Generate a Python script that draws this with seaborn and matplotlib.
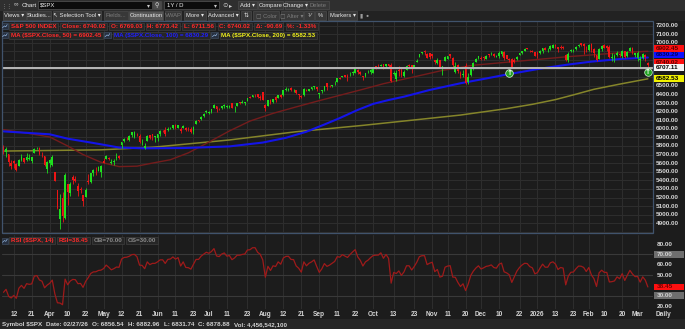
import numpy as np
import pandas as pd
import matplotlib
matplotlib.use("Agg")
import matplotlib.pyplot as plt
from matplotlib.patches import Rectangle
from matplotlib.lines import Line2D
import seaborn as sns

# ---------------------------------------------------------------- data
holidays = ["2025-04-18", "2025-05-26", "2025-06-19", "2025-07-04", "2025-09-01",
            "2025-11-27", "2025-12-25", "2026-01-01", "2026-01-19", "2026-02-16"]
dates = pd.bdate_range("2025-03-06", "2026-03-06")
dates = dates[~dates.isin(pd.to_datetime(holidays))]

opens = [
    5785, 5726, 5705, 5603, 5624, 5594, 5563, 5635, 5655, 5632, 5646, 5630, 5719, 5775, 5771, 5696, 5679, 5528,
    5597, 5580, 5492, 5292, 4953, 5193, 4966, 5353, 5255, 5442, 5412, 5335, 5305, 5232, 5207, 5395, 5381, 5490, 5530, 5508, 5500,
    5626, 5646, 5655, 5606, 5614, 5661, 5680, 5808, 5854, 5895, 5866, 5930, 5903, 5944, 5921, 5842, 5781, 5855, 5926, 5939, 5903,
    5897, 5939, 5979, 5985, 5987, 6005, 6010, 6049, 6010, 5997, 6004, 6012, 5987, 5999, 5970, 6061, 6104, 6112, 6151, 6193,
    6187, 6191, 6244, 6260, 6236, 6240, 6267, 6256, 6255, 6295, 6262, 6265, 6307, 6304, 6306, 6327, 6368, 6371, 6397, 6405, 6375, 6428,
    6272, 6261, 6336, 6309, 6376, 6353, 6390, 6397, 6457, 6453, 6478, 6446, 6446, 6408, 6384, 6394, 6457, 6440, 6458, 6483, 6490,
    6401, 6444, 6454, 6530, 6498, 6498, 6531, 6545, 6590, 6603, 6626, 6613, 6627, 6644, 6653, 6690, 6666, 6606, 6615, 6661, 6661,
    6655, 6731, 6723, 6735, 6751, 6733, 6756, 6744, 6641, 6575, 6684, 6687, 6612, 6687, 6737, 6743, 6719, 6777, 6840, 6885, 6907, 6876, 6880,
    6873, 6796, 6764, 6797, 6701, 6788, 6815, 6867, 6830, 6667, 6737, 6648, 6623, 6730, 6545, 6623, 6706, 6778, 6822,
    6830, 6830, 6815, 6867, 6866, 6872, 6840, 6843, 6866, 6889, 6857, 6812, 6815, 6800, 6810, 6865, 6883, 6906, 6935, 6907, 6908, 6895,
    6878, 6880, 6903, 6945, 6915, 6925, 6945, 6975, 6950, 6955, 6955, 6860, 6800, 6910, 6905, 6925, 6960, 6995, 6985, 6945,
    6920, 6985, 6925, 6860, 6815, 6925, 6970, 6960, 6950, 6830, 6820, 6855, 6865, 6850, 6900, 6845, 6905, 6945, 6857,
    6830, 6800, 6830, 6865, 6769,
]
highs = [
    5812, 5783, 5705, 5636, 5642, 5597, 5646, 5704, 5655, 5716, 5711, 5670, 5775, 5787, 5784, 5733, 5685, 5627,
    5650, 5695, 5500, 5292, 5246, 5267, 5481, 5353, 5381, 5460, 5450, 5367, 5328, 5232, 5309, 5470, 5489, 5528, 5554, 5572, 5581,
    5659, 5700, 5677, 5643, 5653, 5720, 5691, 5845, 5893, 5906, 5925, 5959, 5969, 5954, 5938, 5879, 5829, 5925, 5929, 5943, 5922,
    5938, 5982, 5990, 6016, 6016, 6021, 6043, 6060, 6046, 6026, 6050, 6024, 6018, 6019, 6028, 6101, 6108, 6147, 6187, 6215,
    6211, 6228, 6285, 6263, 6243, 6270, 6290, 6273, 6272, 6303, 6270, 6304, 6315, 6336, 6316, 6360, 6381, 6389, 6401, 6409, 6390, 6428,
    6288, 6330, 6346, 6349, 6379, 6395, 6410, 6446, 6481, 6474, 6482, 6459, 6456, 6408, 6394, 6478, 6466, 6468, 6486, 6502, 6490,
    6416, 6455, 6502, 6533, 6512, 6513, 6556, 6592, 6601, 6619, 6627, 6639, 6656, 6672, 6694, 6693, 6670, 6620, 6651, 6680, 6693,
    6718, 6731, 6750, 6749, 6752, 6755, 6757, 6764, 6671, 6680, 6731, 6707, 6682, 6744, 6752, 6745, 6748, 6808, 6876, 6899, 6920, 6881, 6882,
    6875, 6803, 6828, 6799, 6734, 6842, 6847, 6869, 6835, 6775, 6753, 6677, 6683, 6770, 6655, 6715, 6776, 6828, 6850,
    6843, 6851, 6857, 6868, 6896, 6878, 6864, 6900, 6903, 6900, 6858, 6830, 6822, 6819, 6842, 6884, 6911, 6937, 6945, 6920, 6919, 6897,
    6910, 6920, 6945, 6955, 6935, 6978, 6985, 6985, 6955, 6970, 6965, 6870, 6895, 6930, 6925, 6960, 6990, 7002, 6995, 6965,
    6985, 7000, 6940, 6865, 6940, 6970, 6985, 6975, 6970, 6880, 6870, 6905, 6880, 6920, 6905, 6900, 6950, 6950, 6883,
    6900, 6845, 6880, 6875, 6773,
]
lows = [
    5711, 5667, 5565, 5529, 5546, 5505, 5563, 5628, 5598, 5622, 5641, 5603, 5719, 5765, 5696, 5672, 5572, 5488,
    5560, 5571, 5390, 5069, 4835, 4910, 4948, 5116, 5221, 5358, 5386, 5220, 5255, 5102, 5207, 5356, 5372, 5455, 5468, 5506, 5434,
    5597, 5645, 5635, 5590, 5578, 5640, 5644, 5776, 5846, 5869, 5856, 5908, 5895, 5922, 5830, 5810, 5768, 5855, 5886, 5875, 5843,
    5862, 5918, 5967, 5921, 5979, 5994, 6000, 6003, 6005, 5953, 6004, 5974, 5971, 5953, 5943, 6061, 6081, 6106, 6133, 6181,
    6173, 6188, 6244, 6201, 6218, 6236, 6248, 6241, 6239, 6242, 6201, 6263, 6286, 6303, 6282, 6318, 6361, 6369, 6375, 6364, 6330, 6336,
    6212, 6261, 6288, 6302, 6316, 6353, 6364, 6382, 6445, 6441, 6441, 6431, 6401, 6343, 6361, 6386, 6438, 6435, 6456, 6465, 6444,
    6361, 6421, 6444, 6454, 6488, 6485, 6514, 6540, 6579, 6600, 6598, 6553, 6614, 6632, 6651, 6642, 6625, 6570, 6606, 6648, 6640,
    6651, 6693, 6706, 6726, 6700, 6719, 6717, 6550, 6627, 6551, 6617, 6604, 6600, 6685, 6717, 6654, 6709, 6774, 6840, 6870, 6860, 6820, 6810,
    6821, 6754, 6750, 6708, 6631, 6788, 6813, 6827, 6723, 6646, 6653, 6589, 6608, 6526, 6521, 6619, 6680, 6776, 6818,
    6800, 6806, 6808, 6836, 6858, 6834, 6832, 6830, 6844, 6801, 6812, 6776, 6721, 6761, 6800, 6858, 6868, 6905, 6924, 6891, 6891, 6844,
    6824, 6870, 6885, 6915, 6895, 6920, 6935, 6940, 6895, 6930, 6925, 6790, 6775, 6895, 6890, 6920, 6955, 6965, 6870, 6895,
    6900, 6890, 6840, 6785, 6810, 6905, 6935, 6905, 6820, 6795, 6775, 6850, 6835, 6830, 6825, 6835, 6900, 6870, 6832,
    6795, 6710, 6815, 6785, 6712,
]
closes = [
    5739, 5770, 5615, 5572, 5599, 5522, 5639, 5675, 5615, 5675, 5663, 5668, 5768, 5777, 5712, 5693, 5581, 5612,
    5633, 5671, 5397, 5074, 5062, 4983, 5457, 5268, 5363, 5406, 5397, 5276, 5283, 5158, 5288, 5376, 5485, 5525, 5529, 5561, 5569,
    5604, 5687, 5650, 5607, 5631, 5664, 5660, 5844, 5887, 5893, 5917, 5958, 5964, 5940, 5845, 5842, 5803, 5922, 5889, 5912, 5912,
    5936, 5970, 5971, 5939, 6000, 6006, 6039, 6022, 6045, 5977, 6033, 5983, 5981, 5968, 6025, 6092, 6092, 6141, 6173, 6205,
    6198, 6227, 6279, 6230, 6226, 6263, 6280, 6260, 6269, 6244, 6264, 6297, 6297, 6306, 6310, 6359, 6363, 6389, 6390, 6371, 6363, 6339,
    6238, 6330, 6299, 6345, 6340, 6389, 6373, 6446, 6467, 6469, 6450, 6449, 6411, 6396, 6370, 6467, 6439, 6466, 6481, 6502, 6460,
    6416, 6448, 6502, 6482, 6495, 6513, 6532, 6587, 6584, 6615, 6607, 6600, 6632, 6664, 6694, 6657, 6638, 6605, 6644, 6661, 6688,
    6711, 6715, 6716, 6740, 6715, 6754, 6735, 6553, 6655, 6644, 6671, 6629, 6664, 6735, 6735, 6699, 6738, 6792, 6875, 6891, 6891, 6822, 6840,
    6852, 6772, 6796, 6720, 6729, 6832, 6847, 6851, 6737, 6734, 6672, 6617, 6642, 6539, 6603, 6705, 6766, 6813, 6849,
    6813, 6829, 6850, 6857, 6870, 6847, 6841, 6887, 6901, 6827, 6817, 6800, 6721, 6775, 6835, 6878, 6910, 6932, 6930, 6906, 6896, 6846,
    6858, 6902, 6944, 6921, 6921, 6966, 6977, 6963, 6926, 6944, 6940, 6797, 6875, 6913, 6916, 6950, 6979, 6978, 6969, 6939,
    6976, 6917, 6883, 6798, 6932, 6964, 6942, 6941, 6833, 6836, 6843, 6881, 6861, 6910, 6837, 6890, 6946, 6908, 6879,
    6881, 6817, 6869, 6831, 6740,
]
# closes before the visible window (RSI warm-up only)
pre_closes = [6049, 6086, 6119, 6101, 6012, 6068, 6039, 6071, 6041, 5994, 6038, 6061, 6084, 6026, 6066,
              6068, 6052, 6115, 6115, 6129, 6144, 6118, 6013, 5983, 5955, 5956, 5861, 5955, 5850, 5778, 5843]

ma50_idx = [0, 10, 18, 25, 31, 38, 45, 52, 57, 65, 72, 80, 88, 96, 105, 114, 122, 131, 140, 148,
            161, 171, 183, 196, 209, 220, 229, 240, 251]
ma50_val = [5990, 5945, 5905, 5800, 5700, 5610, 5560, 5565, 5595, 5640, 5720, 5845, 5975, 6090, 6180,
            6255, 6320, 6390, 6460, 6525, 6612, 6680, 6740, 6775, 6810, 6840, 6860, 6885, 6902]
ma100_idx = [0, 18, 25, 35, 45, 54, 70, 88, 101, 110, 118, 125, 131, 138, 144, 150, 156, 166, 178,
             187, 196, 209, 220, 229, 240, 251]
ma100_val = [5970, 5936, 5885, 5835, 5782, 5773, 5776, 5795, 5840, 5895, 5966, 6050, 6125, 6220, 6290,
             6335, 6374, 6452, 6530, 6580, 6632, 6700, 6748, 6782, 6812, 6830]
ma200_idx = [0, 38, 58, 88, 114, 140, 166, 178, 196, 206, 215, 222, 230, 240, 251]
ma200_val = [5741, 5755, 5785, 5870, 5966, 6040, 6122, 6160, 6235, 6285, 6340, 6395, 6460, 6520, 6582]

hline_price = 6707.11
marker_idx = [197, 251]
marker_price = [6646, 6665]

tick_dates = ["2025-03-12", "2025-03-21", "2025-04-01", "2025-04-10", "2025-04-22", "2025-05-01",
              "2025-05-12", "2025-05-21", "2025-06-02", "2025-06-11", "2025-06-23", "2025-07-01",
              "2025-07-11", "2025-07-23", "2025-08-01", "2025-08-12", "2025-08-21", "2025-09-02",
              "2025-09-11", "2025-09-22", "2025-10-01", "2025-10-13", "2025-10-23", "2025-11-03",
              "2025-11-11", "2025-11-20", "2025-12-01", "2025-12-10", "2025-12-22", "2026-01-02",
              "2026-01-13", "2026-01-23", "2026-02-02", "2026-02-10", "2026-02-20", "2026-03-02"]
tick_labels = ["12", "21", "Apr", "10", "22", "May", "12", "21", "Jun", "11", "23", "Jul", "11", "23",
               "Aug", "12", "21", "Sep", "11", "22", "Oct", "13", "23", "Nov", "11", "20", "Dec", "10",
               "22", "2026", "13", "23", "Feb", "10", "20", "Mar"]
price_ticks = list(range(4900, 7300, 100))
hidden_price_ticks = [6600, 6700, 6800, 6900]
rsi_ticks = [80, 60, 50, 20]

header_items = ["S&P 500 INDEX", "Close: 6740.02", "O: 6769.03", "H: 6773.42", "L: 6711.56",
                "C: 6740.02", "Δ: -90.69", "%: -1.33%"]
ma_labels = ["MA ($SPX.Close, 50) = 6902.45", "MA ($SPX.Close, 100) = 6830.29",
             "MA ($SPX.Close, 200) = 6582.53"]
rsi_items = ["RSI ($SPX, 14)", "RSI=38.45", "OB=70.00", "OS=30.00"]
last_values = {"ma50": 6902.45, "ma100": 6830.29, "last": 6740.02, "line": 6707.11, "ma200": 6582.53}
rsi_last = 38.45
status_items = ["Symbol $SPX", "Date: 02/27/26", "O: 6856.54", "H: 6882.96", "L: 6831.74",
                "C: 6878.88", "Vol: 4,456,542,100"]

# ---------------------------------------------------------------- style
BG = "#1c1c1c"
GRID = "#2e2e2e"
GREEN = "#1ee01e"
RED = "#f01515"
TXT = "#d4d4d4"

sns.set_theme(style="dark", rc={"axes.facecolor": BG, "figure.facecolor": BG})
plt.rcParams["font.family"] = ["Liberation Sans", "DejaVu Sans"]

W, H = 685, 329
fig = plt.figure(figsize=(W / 100, H / 100), dpi=100)
fig.patch.set_facecolor(BG)
renderer = fig.canvas.get_renderer()


def rect_ax(x0, y0, x1, y1):
    return [x0 / W, 1 - y1 / H, (x1 - x0) / W, (y1 - y0) / H]


def frect(x0, y0, x1, y1, fc, ec="none", lw=0.0, z=1):
    fig.add_artist(Rectangle((x0 / W, 1 - y1 / H), (x1 - x0) / W, (y1 - y0) / H,
                             transform=fig.transFigure, fc=fc, ec=ec, lw=lw, zorder=z))


def ftext(x, y, s, color, size=4.5, ha="left", weight="bold", z=10):
    return fig.text(x / W, 1 - y / H, s, color=color, fontsize=size, ha=ha, va="center",
                    weight=weight, zorder=z)


def boxed(x, y, s, color, fc="#262626", ec="#3e3e3e", size=4.5, padx=1.6, h=7.0, z=8):
    t = ftext(0, y, s, color, size, z=z + 1)
    w = t.get_window_extent(renderer=renderer).width
    t.set_position(((x + padx) / W, 1 - y / H))
    frect(x, y - h / 2, x + w + 2 * padx, y + h / 2, fc, ec, 0.5, z)
    return x + w + 2 * padx


def icon(x, y, z=8):
    frect(x, y - 3, x + 6.5, y + 3, "#273040", "#46566c", 0.4, z)
    fig.add_artist(Line2D([(x + 1) / W, (x + 3) / W, (x + 4.3) / W, (x + 5.7) / W],
                          [1 - (y + 1.5) / H, 1 - (y - 0.3) / H, 1 - (y + 0.6) / H, 1 - (y - 1.6) / H],
                          transform=fig.transFigure, color="#8fb0d8", lw=0.5, zorder=z + 1))


def button(x0, x1, y0, y1, label, tc="#e6e6e6", fc="#383838", ec="#4c4c4c", size=4.2):
    frect(x0, y0, x1, y1, fc, ec, 0.5, 1)
    ftext((x0 + x1) / 2, (y0 + y1) / 2 + 0.2, label, tc, size, ha="center", weight="normal", z=2)


# ---------------------------------------------------------------- axes
ax = fig.add_axes(rect_ax(2, 21, 653, 233))
axr = fig.add_axes(rect_ax(2, 234.5, 653, 309))
tick_idx = [dates.get_loc(pd.Timestamp(d)) for d in tick_dates]
n = len(closes)
xs = np.arange(n)

for a in (ax, axr):
    a.set_facecolor(BG)
    for sp in a.spines.values():
        sp.set_visible(False)
    a.set_xlim(-0.58, 253.0)
    a.set_xticks(tick_idx)
    a.tick_params(length=0, labelbottom=False, labelleft=False)
    a.grid(True, color=GRID, lw=0.7)
    a.set_axisbelow(True)
    a.set_xlabel("")
    a.set_ylabel("")

ax.set_ylim(4787, 7255)
ax.set_yticks(np.arange(4800, 7300, 100))
axr.set_ylim(17.1, 89.2)
axr.set_yticks([30, 50, 70])
axr.grid(axis="y", color="#393939", lw=0.8)

# candles
o = np.array(opens, float)
c = np.array(closes, float)
hi = np.array(highs, float)
lo = np.array(lows, float)
cols = np.where(c >= o, GREEN, RED)
ax.vlines(xs, lo, hi, colors=cols, lw=0.6, zorder=3)
ax.bar(xs, np.maximum(np.abs(c - o), 5), bottom=np.minimum(o, c), width=0.68,
       color=cols, linewidth=0, zorder=4)

# moving averages
sns.lineplot(x=ma200_idx, y=ma200_val, ax=ax, color="#85852a", lw=1.1, zorder=2, legend=False)
sns.lineplot(x=ma50_idx, y=ma50_val, ax=ax, color="#741c1c", lw=1.0, zorder=2, legend=False)
sns.lineplot(x=ma100_idx, y=ma100_val, ax=ax, color="#1414e8", lw=1.5, zorder=2, legend=False)
ax.set_xlabel("")
ax.set_ylabel("")

# horizontal line
ax.axhline(hline_price, color="#b4b4b4", lw=1.45, zorder=6)

# markers
ax.scatter(marker_idx, marker_price, s=30, color="#22a022", edgecolor="#d8f5d8", lw=0.5, zorder=7)
for mi, mp in zip(marker_idx, marker_price):
    ax.text(mi, mp, "↑", color="white", fontsize=5.2, ha="center", va="center", weight="bold",
            family="DejaVu Sans", zorder=8)

# RSI (Wilder, 14)
allc = np.array(pre_closes + closes, float)
d = np.diff(allc)
g = np.clip(d, 0, None)
l_ = np.clip(-d, 0, None)
rsi_all = np.full(len(allc), np.nan)
ag, al = g[:14].mean(), l_[:14].mean()
rsi_all[14] = 100 - 100 / (1 + ag / al)
for k in range(15, len(allc)):
    ag = (ag * 13 + g[k - 1]) / 14
    al = (al * 13 + l_[k - 1]) / 14
    rsi_all[k] = 100 - 100 / (1 + ag / al)
rsi = rsi_all[len(pre_closes):]
sns.lineplot(x=xs, y=rsi, ax=axr, color="#9e1a1a", lw=0.9, zorder=3, legend=False)
axr.set_xlabel("")
axr.set_ylabel("")

# ---------------------------------------------------------------- price axis labels
def ypx(a, v):
    return H - a.transData.transform((0, v))[1]


for p in price_ticks:
    if p in hidden_price_ticks:
        continue
    ftext(656, ypx(ax, p), f"{p:.2f}", TXT, 4.6)

val_boxes = [("ma50", "#ff1010", "#5a0000", -2.5), ("ma100", "#1010ff", "#000060", -2.5),
             ("last", "#ff1010", "#5a0000", -2.6), ("line", "#f4f4f4", "#000000", -0.4),
             ("ma200", "#f0f000", "#000000", -0.2)]
for key, fc, tc, dy in val_boxes:
    yy = ypx(ax, last_values[key]) + dy
    frect(653.5, yy - 3.4, 684, yy + 3.4, fc, "none", 0, 8)
    ftext(656, yy, f"{last_values[key]:.2f}", tc, 4.6, z=9)

# RSI axis labels
for r in rsi_ticks:
    ftext(657, ypx(axr, r), f"{r:.2f}", TXT, 4.6)
for r, fc, tc in [(70, "#6e6e6e", "#cfcfcf"), (30, "#6e6e6e", "#cfcfcf"), (rsi_last, "#ff1010", "#7a0000")]:
    yy = ypx(axr, r)
    frect(654, yy - 3.4, 684, yy + 3.4, fc, "none", 0, 8)
    ftext(657, yy, f"{r:.2f}", tc, 4.6, z=9)

# date labels
for ti, lab in zip(tick_idx, tick_labels):
    xpx = fig.transFigure.inverted().transform(ax.transData.transform((ti, 0)))[0] * W
    ftext(xpx, 314, lab, TXT, 4.7, ha="center")
ftext(663, 314, "Daily", TXT, 4.7, ha="center")

# ---------------------------------------------------------------- panel borders
frect(1.5, 21, 653, 233, "none", "#40536c", 0.9, 7)

# ---------------------------------------------------------------- legends in panels
icon(1.5, 26.2)
x = 9
for s in header_items:
    x = boxed(x, 26.2, s, "#ff2a2a") + 2.2

icon(1.5, 35.2)
x = 9
for s, col in zip(ma_labels, ["#ff2a2a", "#2020ff", "#f2f21c"]):
    x = boxed(x, 35.2, s, col) + 1.5
    if col != "#f2f21c":
        icon(x, 35.2)
        x += 8.5

icon(1.5, 240.8)
x = 9
for s, col in zip(rsi_items, ["#ff2a2a", "#ff2a2a", "#8a8a8a", "#8a8a8a"]):
    x = boxed(x, 240.8, s, col) + 2.2

# ---------------------------------------------------------------- toolbars
frect(0, 0, W, 10.5, "#2f2f2f", z=0)
frect(0, 10.5, W, 20.5, "#222222", z=0)
ftext(1.5, 5.3, "⋮⋮", "#9a9a9a", 4.0, weight="normal", z=2)
ftext(13.5, 5.3, "∞", "#bbbbbb", 4.6, weight="normal", z=2)
ftext(22, 5.3, "Chart", "#e8e8e8", 4.5, weight="normal", z=2)
frect(38, 1.5, 152, 9.2, "#0c0c0c", "#565656", 0.5, 1)
ftext(40, 5.4, "$SPX", "#f0f0f0", 4.3, weight="normal", z=2)
ftext(148, 5.3, "▾", "#cccccc", 4.2, ha="center", weight="normal", z=2)
button(153, 161, 1.5, 9.2, "⚲", fc="#4a4a4a")
frect(164, 1.5, 219, 9.2, "#0c0c0c", "#565656", 0.5, 1)
ftext(167, 5.4, "1Y / D", "#f0f0f0", 4.3, weight="normal", z=2)
ftext(215, 5.3, "▾", "#cccccc", 4.2, ha="center", weight="normal", z=2)
ftext(222, 5.3, "⊙", "#cccccc", 4.6, weight="normal", z=2)
ftext(229, 5.3, "▸", "#cccccc", 4.6, weight="normal", z=2)
button(238, 257, 1.5, 9.2, "Add ▾")
button(258, 283, 1.5, 9.2, "Compare")
button(285, 306, 1.5, 9.2, "Change ▾")
button(307, 329, 1.5, 9.2, "Delete", tc="#7c7c7c")

yb0, yb1 = 11.5, 19.5
button(3, 26, yb0, yb1, "Views ▾")
button(27, 51, yb0, yb1, "Studies...")
button(53, 101, yb0, yb1, "↖ Selection Tool ▾")
button(104, 128, yb0, yb1, "Fields...", tc="#7c7c7c")
button(129, 163, yb0, yb1, "Continuation", fc="#555555")
button(165, 181, yb0, yb1, "VWAP", tc="#7c7c7c")
button(184, 206, yb0, yb1, "More ▾")
button(208, 239, yb0, yb1, "Advanced ▾")
button(241, 251, yb0, yb1, "⇅")
button(253, 279, yb0, yb1, "▢ Color", tc="#7c7c7c")
button(281, 303, yb0, yb1, "▢ Alter ▾", tc="#7c7c7c")
button(304, 314, yb0, yb1, "⅟")
button(315, 326, yb0, yb1, "%")
button(328, 357, yb0, yb1, "Markers ▾")
ftext(360, 15.5, "▮", "#9a9a9a", 4.2, weight="normal", z=2)
ftext(366, 15.5, "●", "#9a9a9a", 3.6, weight="normal", z=2)

# ---------------------------------------------------------------- status bar
frect(0, 319, W, H, "#262626", z=0)
x = 2
for s in status_items:
    t = ftext(x, 324.3, s, "#d2d2d2", 4.5)
    x += t.get_window_extent(renderer=renderer).width + 4.2

fig.savefig("out.png", dpi=100, facecolor=BG)
